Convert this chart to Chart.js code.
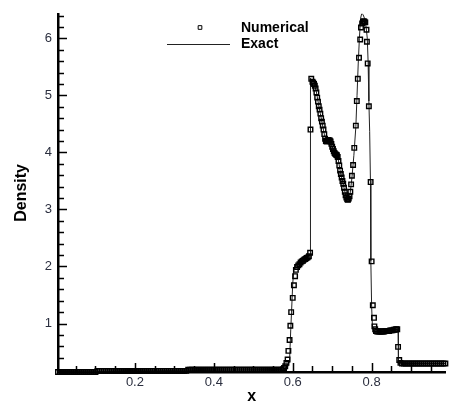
<!DOCTYPE html>
<html>
<head>
<meta charset="utf-8">
<title>Density</title>
<script src="https://cdn.jsdelivr.net/npm/chart.js@4.4.0/dist/chart.umd.min.js"></script>
<style>
  html, body { margin: 0; padding: 0; background: #fff; }
  #grafico { display: block; }
</style>
</head>
<body>
<canvas id="grafico" width="451" height="402"></canvas>
<script>
// ====================== DATA ======================
const xTicks = [0.2, 0.4, 0.6, 0.8];
const yTicks = [1, 2, 3, 4, 5, 6];

// Numerical solution (squares)
const xNumerical = [
    0.005, 0.01, 0.015, 0.02, 0.025, 0.03, 0.035, 0.04, 0.045, 0.05,
    0.055, 0.06, 0.065, 0.07, 0.075, 0.08, 0.085, 0.09, 0.095, 0.1,
    0.105, 0.11, 0.115, 0.12, 0.125, 0.13, 0.135, 0.14, 0.145, 0.15,
    0.155, 0.16, 0.165, 0.17, 0.175, 0.18, 0.185, 0.19, 0.195, 0.2,
    0.205, 0.21, 0.215, 0.22, 0.225, 0.23, 0.235, 0.24, 0.245, 0.25,
    0.255, 0.26, 0.265, 0.27, 0.275, 0.28, 0.285, 0.29, 0.295, 0.3,
    0.305, 0.31, 0.315, 0.32, 0.325, 0.33,
    0.335, 0.34, 0.345, 0.35, 0.355, 0.36, 0.365, 0.37, 0.375, 0.38, 0.385, 0.39, 0.395, 0.4,
    0.405, 0.41, 0.415, 0.42, 0.425, 0.43, 0.435, 0.44, 0.445, 0.45,
    0.455, 0.46, 0.465, 0.47, 0.475, 0.48, 0.485, 0.49, 0.495, 0.5,
    0.505, 0.51, 0.515, 0.52, 0.525, 0.53, 0.535, 0.54, 0.545, 0.55, 0.555, 0.56, 0.565, 0.57,
    0.575, 0.578, 0.581, 0.584, 0.587, 0.589, 0.592, 0.594, 0.596, 0.600, 0.603, 0.606, 0.608,
    0.611, 0.614, 0.617, 0.620, 0.623, 0.626, 0.629, 0.632, 0.635, 0.638, 0.641, 0.644,
    0.645, 0.647, 0.650, 0.652, 0.654, 0.656, 0.658, 0.660, 0.662, 0.664, 0.666, 0.668, 0.670,
    0.672, 0.674, 0.676, 0.678, 0.680, 0.682, 0.684, 0.686, 0.688, 0.690, 0.692, 0.694, 0.696,
    0.698, 0.700, 0.702, 0.704, 0.706, 0.708, 0.710, 0.712, 0.714, 0.716, 0.718, 0.720, 0.722,
    0.724, 0.726, 0.728, 0.730, 0.732, 0.734, 0.736, 0.738, 0.740, 0.742, 0.744, 0.746, 0.748,
    0.750, 0.753, 0.756, 0.760, 0.7625, 0.765, 0.768, 0.771, 0.773, 0.776, 0.778, 0.780, 0.782,
    0.784, 0.787, 0.788, 0.790, 0.793, 0.7975, 0.800, 0.803, 0.806, 0.807, 0.809, 0.811,
    0.814, 0.817, 0.820, 0.823, 0.826, 0.829, 0.832, 0.835, 0.838, 0.841, 0.844, 0.847, 0.850,
    0.853, 0.856, 0.859, 0.862, 0.865, 0.867, 0.870, 0.873,
    0.877, 0.882, 0.887, 0.892, 0.897, 0.902, 0.907, 0.912, 0.917, 0.922, 0.927, 0.932,
    0.937, 0.942, 0.947, 0.952, 0.957, 0.962, 0.967, 0.972, 0.977, 0.982, 0.987
];
const yNumerical = [
    0.15, 0.15, 0.15, 0.15, 0.15, 0.15, 0.15, 0.15, 0.15, 0.15,
    0.15, 0.15, 0.15, 0.15, 0.15, 0.15, 0.15, 0.15, 0.15, 0.15,
    0.17, 0.17, 0.17, 0.17, 0.17, 0.17, 0.17, 0.17, 0.17, 0.17,
    0.17, 0.17, 0.17, 0.17, 0.17, 0.17, 0.17, 0.17, 0.17, 0.17,
    0.17, 0.17, 0.17, 0.17, 0.17, 0.17, 0.17, 0.17, 0.17, 0.17,
    0.17, 0.17, 0.17, 0.17, 0.17, 0.17, 0.17, 0.17, 0.17, 0.17,
    0.17, 0.17, 0.17, 0.17, 0.17, 0.17,
    0.19, 0.19, 0.19, 0.19, 0.19, 0.19, 0.19, 0.19, 0.19, 0.19, 0.19, 0.19, 0.19, 0.19,
    0.19, 0.19, 0.19, 0.19, 0.19, 0.19, 0.19, 0.19, 0.19, 0.19,
    0.19, 0.19, 0.19, 0.19, 0.19, 0.19, 0.19, 0.19, 0.19, 0.19,
    0.19, 0.19, 0.19, 0.19, 0.19, 0.19, 0.19, 0.19, 0.19, 0.19, 0.19, 0.19, 0.19, 0.19,
    0.20, 0.22, 0.25, 0.31, 0.37, 0.52, 0.71, 0.96, 1.20, 1.45, 1.67, 1.83, 1.94,
    1.99, 2.02, 2.04, 2.07, 2.09, 2.10, 2.12, 2.13, 2.15, 2.16, 2.18, 2.24,
    4.40, 5.29, 5.24, 5.22, 5.20, 5.17, 5.12, 5.05, 4.96, 4.89, 4.81, 4.75, 4.68,
    4.60, 4.54, 4.47, 4.40, 4.32, 4.24, 4.20, 4.19, 4.20, 4.22, 4.21, 4.21, 4.19,
    4.15, 4.10, 4.06, 4.02, 3.99, 3.97, 3.96, 3.95, 3.92, 3.85, 3.77, 3.68, 3.62,
    3.56, 3.50, 3.45, 3.38, 3.31, 3.25, 3.21, 3.18, 3.17, 3.19, 3.23, 3.31, 3.44,
    3.59, 3.78, 4.08, 4.47, 4.90, 5.29, 5.66, 5.98, 6.19, 6.26, 6.29, 6.30, 6.29,
    6.28, 6.15, 5.94, 5.56, 4.81, 3.48, 2.09, 1.32, 1.10, 0.95, 0.90, 0.87,
    0.86, 0.86, 0.86, 0.86, 0.86, 0.86, 0.86, 0.87, 0.87, 0.87, 0.87, 0.88, 0.88,
    0.88, 0.89, 0.89, 0.90, 0.90, 0.59, 0.36, 0.31,
    0.30, 0.30, 0.30, 0.30, 0.30, 0.30, 0.30, 0.30, 0.30, 0.30, 0.30, 0.30,
    0.30, 0.30, 0.30, 0.30, 0.30, 0.30, 0.30, 0.30, 0.30, 0.30, 0.30
];

// Exact solution (line)
const xExact = [
    0.005, 0.10, 0.33, 0.575, 0.585, 0.592, 0.595, 0.597, 0.600, 0.603, 0.608, 0.615, 0.625,
    0.635, 0.645, 0.645, 0.650, 0.655, 0.660, 0.665, 0.670, 0.675, 0.680, 0.685, 0.690, 0.695,
    0.700, 0.705, 0.710, 0.715, 0.720, 0.725, 0.730, 0.735, 0.740, 0.745, 0.750, 0.755, 0.760,
    0.763, 0.766, 0.769, 0.772, 0.775, 0.778, 0.782, 0.786, 0.789, 0.791, 0.793, 0.795, 0.797,
    0.798, 0.800, 0.802, 0.805, 0.810, 0.830, 0.850, 0.867, 0.868, 0.99
];
const yExact = [
    0.15, 0.16, 0.18, 0.19, 0.20, 0.35, 0.90, 1.20, 1.70, 1.95, 2.03, 2.05, 2.10,
    2.15, 2.22, 5.30, 5.25, 5.19, 5.06, 4.86, 4.68, 4.50, 4.32, 4.20, 4.22, 4.20,
    4.10, 4.01, 3.96, 3.89, 3.69, 3.53, 3.38, 3.23, 3.16, 3.25, 3.55, 3.95, 4.45,
    5.00, 5.55, 6.00, 6.35, 6.44, 6.42, 6.35, 6.20, 6.00, 5.60, 4.90, 4.37, 3.50,
    2.10, 1.30, 0.95, 0.88, 0.86, 0.86, 0.88, 0.90, 0.30, 0.30
];

const FUENTE = "'Liberation Sans', Arial, sans-serif";

// ====================== PLUGINS ======================
// Inward tick marks, Tecplot style
const ticksInternos = {
    id: 'ticksInternos',
    afterDraw(chart) {
        const {ctx, chartArea, scales: {x, y}} = chart;
        ctx.save();
        ctx.strokeStyle = '#000';
        ctx.lineWidth = 1.5;
        ctx.beginPath();
        for (let i = 1; i < 20; i++) {
            const v = i * 0.05;
            if (v > x.max) break;
            const px = Math.round(x.getPixelForValue(v)) + 0.5;
            const len = (i % 4 === 0) ? 9 : 6;
            ctx.moveTo(px, chartArea.bottom);
            ctx.lineTo(px, chartArea.bottom - len);
        }
        for (let i = 2; i <= 32; i++) {
            const v = i * 0.2;
            if (v > y.max) break;
            const py = Math.round(y.getPixelForValue(v)) + 0.5;
            const len = (i % 5 === 0) ? 9 : 6;
            ctx.moveTo(chartArea.left, py);
            ctx.lineTo(chartArea.left + len, py);
        }
        ctx.stroke();
        ctx.restore();
    }
};

// Legend drawn inside the plot area
const leyenda = {
    id: 'leyenda',
    afterDraw(chart) {
        const ctx = chart.ctx;
        const num = chart.data.datasets[0];
        const ex  = chart.data.datasets[1];
        ctx.save();
        ctx.strokeStyle = num.borderColor;
        ctx.lineWidth = 1;
        Chart.helpers.drawPoint(ctx, {
            pointStyle: num.pointStyle,
            radius: 2.6,
            borderWidth: 1,
            rotation: 0
        }, 200, 27.5);

        ctx.beginPath();
        ctx.strokeStyle = ex.borderColor;
        ctx.lineWidth = ex.borderWidth;
        ctx.moveTo(167, 44.5);
        ctx.lineTo(230, 44.5);
        ctx.stroke();

        ctx.fillStyle = '#000';
        ctx.font = "bold 14px " + FUENTE;
        ctx.textAlign = 'left';
        ctx.textBaseline = 'middle';
        ctx.fillText(num.label, 241, 28);
        ctx.fillText(ex.label, 241, 44);
        ctx.restore();
    }
};

// ====================== CHART ======================
const ctx = document.getElementById("grafico").getContext("2d");
new Chart(ctx, {
    type: "scatter",
    data: {
        datasets: [
            {
                label: "Numerical",
                data: xNumerical.map((v, i) => ({x: v, y: yNumerical[i]})),
                pointStyle: "rect",
                pointRadius: 3.2,
                pointBorderWidth: 1.4,
                borderColor: "#000",
                backgroundColor: "rgba(0,0,0,0)",
                showLine: false,
                clip: false
            },
            {
                label: "Exact",
                data: xExact.map((v, i) => ({x: v, y: yExact[i]})),
                showLine: true,
                pointRadius: 0,
                borderColor: "#222",
                borderWidth: 1,
                tension: 0
            }
        ]
    },
    options: {
        responsive: false,
        animation: false,
        devicePixelRatio: 1,
        layout: { padding: { top: 12, right: 0, bottom: 0, left: 0 } },
        plugins: {
            legend: { display: false },
            tooltip: { enabled: false }
        },
        scales: {
            x: {
                type: "linear",
                min: 0.005,
                max: 0.9875,
                afterBuildTicks: s => { s.ticks = xTicks.map(v => ({value: v})); },
                afterFit: s => { s.height = 30; },
                grid: { display: false, drawTicks: false, tickLength: 0 },
                border: { display: true, color: "#000", width: 2.5 },
                ticks: {
                    autoSkip: false,
                    maxRotation: 0,
                    padding: 3,
                    color: "#2b2f3f",
                    font: { family: FUENTE, size: 13 },
                    callback: v => v.toFixed(1)
                },
                title: {
                    display: true,
                    text: "x",
                    color: "#000",
                    font: { family: FUENTE, size: 16, weight: "bold" },
                    padding: { top: 0, bottom: -4 }
                }
            },
            y: {
                type: "linear",
                min: 0.15,
                max: 6.43,
                afterBuildTicks: s => { s.ticks = yTicks.map(v => ({value: v})); },
                afterFit: s => { s.width = 58; },
                grid: { display: false, drawTicks: false, tickLength: 0 },
                border: { display: true, color: "#000", width: 2.5 },
                ticks: {
                    padding: 6,
                    color: "#2b2f3f",
                    font: { family: FUENTE, size: 13 },
                    callback: v => String(v)
                },
                title: {
                    display: true,
                    text: "Density",
                    color: "#000",
                    font: { family: FUENTE, size: 16, weight: "bold" },
                    padding: { top: 12, bottom: 0 }
                }
            }
        }
    },
    plugins: [ticksInternos, leyenda]
});
</script>
</body>
</html>
